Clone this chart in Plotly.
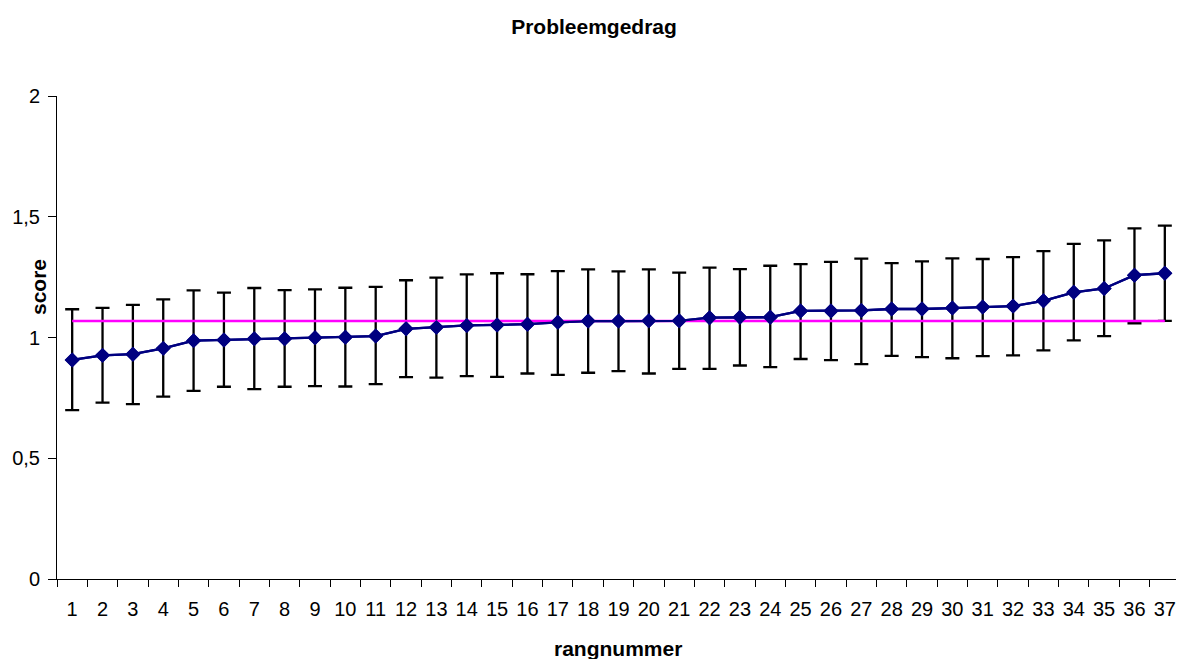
import plotly.graph_objects as go

rang = [str(i) for i in range(1, 38)]
score = [0.907, 0.926, 0.931, 0.955, 0.987, 0.990, 0.995, 0.995, 0.999, 1.001,
         1.006, 1.036, 1.042, 1.050, 1.052, 1.055, 1.063, 1.068, 1.068, 1.069,
         1.069, 1.082, 1.084, 1.084, 1.110, 1.110, 1.112, 1.118, 1.118, 1.122,
         1.126, 1.130, 1.152, 1.187, 1.203, 1.258, 1.266]
err_plus = [0.210, 0.197, 0.204, 0.203, 0.208, 0.196, 0.210, 0.201, 0.200, 0.205,
            0.204, 0.201, 0.206, 0.211, 0.214, 0.207, 0.212, 0.214, 0.206, 0.213,
            0.200, 0.207, 0.199, 0.213, 0.194, 0.203, 0.215, 0.190, 0.197, 0.206,
            0.199, 0.203, 0.206, 0.201, 0.199, 0.194, 0.197]
err_minus = [0.208, 0.196, 0.207, 0.200, 0.208, 0.194, 0.209, 0.199, 0.200, 0.204,
             0.199, 0.200, 0.208, 0.210, 0.215, 0.204, 0.218, 0.214, 0.207, 0.218,
             0.199, 0.212, 0.200, 0.207, 0.199, 0.204, 0.222, 0.194, 0.199, 0.208,
             0.203, 0.204, 0.205, 0.199, 0.197, 0.199, 0.197]
gemiddelde = [1.068] * len(rang)

y_tickvals = [0, 0.5, 1, 1.5, 2]
y_ticktext = ["0", "0,5", "1", "1,5", "2"]

FONT = "Liberation Sans, Arial, sans-serif"
NAVY = "#000080"

fig = go.Figure()
fig.add_trace(go.Scatter(
    x=rang, y=score, mode="lines+markers",
    line=dict(color=NAVY, width=2.3),
    marker=dict(symbol="diamond", size=11.5, color=NAVY),
    error_y=dict(type="data", symmetric=False, array=err_plus, arrayminus=err_minus,
                 color="black", thickness=2.3, width=7),
    showlegend=False,
))
fig.add_trace(go.Scatter(
    x=rang, y=gemiddelde, mode="lines",
    line=dict(color="#FF00FF", width=2.5),
    showlegend=False,
))
fig.add_trace(go.Scatter(
    x=rang, y=score, mode="lines+markers",
    line=dict(color=NAVY, width=2.3),
    marker=dict(symbol="diamond", size=11.5, color=NAVY),
    showlegend=False,
))

# the page body has an 8px margin, so the figure starts at (8, 8)
OFF = 8
W, H = 1184 - OFF, 659 - OFF
L, R, T, B = 49, 4, 88, 80
pw, ph = W - L - R, H - T - B
plot_bottom_page = OFF + H - B

fig.update_layout(
    width=W, height=H,
    margin=dict(l=L, r=R, t=T, b=B),
    paper_bgcolor="white", plot_bgcolor="white",
    font=dict(family=FONT, size=20, color="black"),
    title=dict(text="<b>Probleemgedrag</b>", x=(594 - OFF) / W, xanchor="center",
               y=1 - (27 - OFF) / H, yanchor="middle", yref="container",
               font=dict(family=FONT, size=21, color="black")),
    xaxis=dict(
        type="category", tickson="boundaries", range=[-0.5, 36.5],
        automargin=False, tickangle=0,
        showline=True, linecolor="black", linewidth=1,
        ticks="outside", ticklen=7, tickcolor="black", tickwidth=1,
        showgrid=False, zeroline=False,
        tickfont=dict(family=FONT, size=20, color="black"),
        ticklabelstandoff=12,
    ),
    yaxis=dict(
        range=[0, 2], tickvals=y_tickvals, ticktext=y_ticktext,
        automargin=False,
        showline=True, linecolor="black", linewidth=1,
        ticks="outside", ticklen=8, tickcolor="black", tickwidth=1,
        showgrid=False, zeroline=False,
        tickfont=dict(family=FONT, size=20, color="black"),
        ticklabelstandoff=4,
    ),
    annotations=[
        dict(text="<b>score</b>", xref="paper", yref="paper",
             x=(38 - OFF - L) / pw, y=(plot_bottom_page - 287) / ph,
             xanchor="center", yanchor="middle", textangle=-90, showarrow=False,
             font=dict(family=FONT, size=21, color="black")),
        dict(text="<b>rangnummer</b>", xref="paper", yref="paper",
             x=(618 - OFF - L) / pw, y=(plot_bottom_page - 648) / ph,
             xanchor="center", yanchor="middle", showarrow=False,
             font=dict(family=FONT, size=21, color="black")),
    ],
)

fig.write_html("out.html")
